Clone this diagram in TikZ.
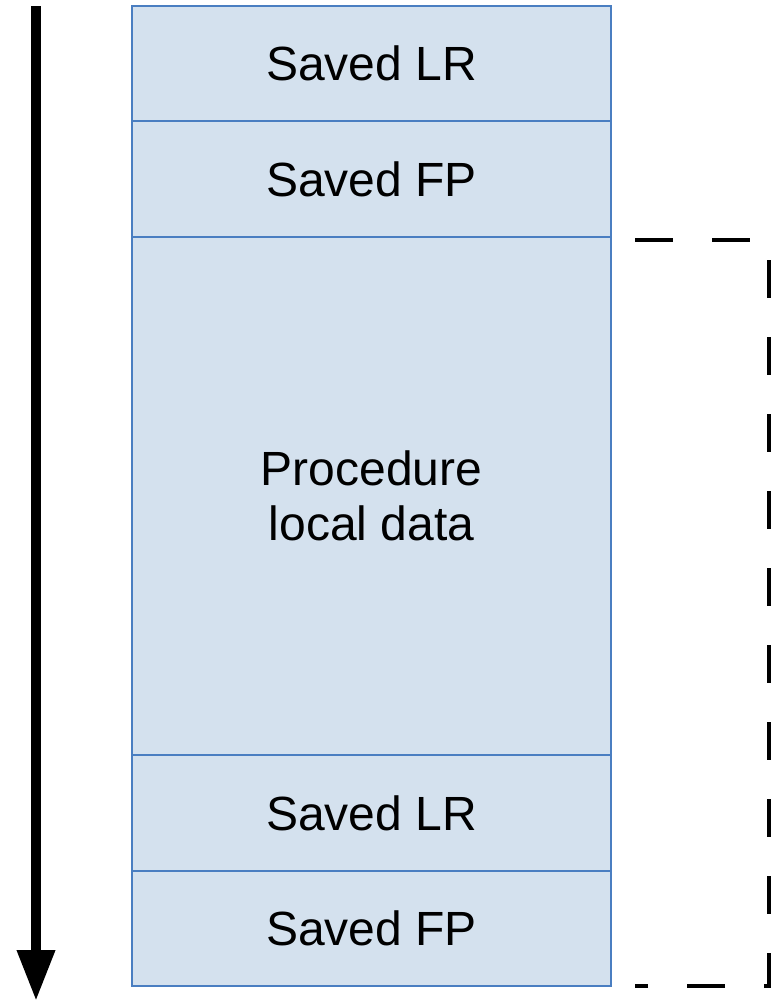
\documentclass[tikz,border=0pt]{standalone}
\usepackage{fontspec}
\setmainfont{Liberation Sans}
\usetikzlibrary{arrows.meta}
\definecolor{cellfill}{RGB}{212,225,238}
\definecolor{celldraw}{RGB}{74,126,193}
\begin{document}
\begin{tikzpicture}[x=1pt,y=-1pt,
  cell/.style={draw=celldraw, line width=1.2pt, fill=cellfill, minimum width=479pt,
    inner sep=0pt, font=\fontsize{48}{55}\selectfont, align=center},
  bigarrow/.style={line width=10pt, -{Triangle[width=36pt,length=51pt]}},
  bracket/.style={line width=4pt, dash pattern=on 38pt off 39pt}]
\useasboundingbox (0,0) rectangle (783,1002);
\node[cell, minimum height=115pt] (lr1) at (371.5,63.5) {Saved LR};
\node[cell, minimum height=116pt] (fp1) at (371.5,179) {Saved FP};
\node[cell, minimum height=518pt] (local) at (371.5,496) {Procedure\\local data};
\node[cell, minimum height=116pt] (lr2) at (371.5,813) {Saved LR};
\node[cell, minimum height=115pt] (fp2) at (371.5,928.5) {Saved FP};
\coordinate (atop) at (36,6);
\coordinate (abot) at (36,1001);
\draw[bigarrow] (atop) -- (abot);
\coordinate (b1) at (635,240);
\coordinate (b2) at (769,240);
\coordinate (b3) at (769,986);
\coordinate (b4) at (635,986);
\draw[bracket] (b1) -- (b2) -- (b3) -- (b4);
\end{tikzpicture}
\end{document}
